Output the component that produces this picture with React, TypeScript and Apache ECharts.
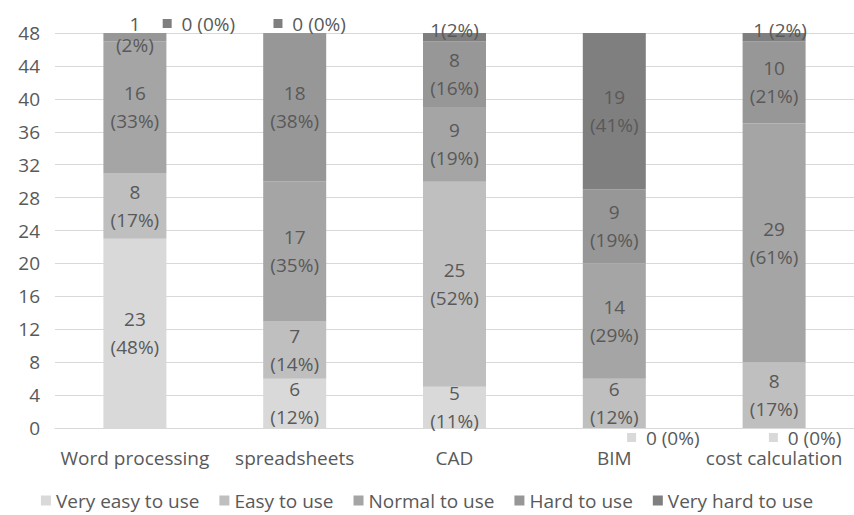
import React, { useEffect, useRef } from "react";
import * as echarts from "echarts";

const categories = ["Word processing", "spreadsheets", "CAD", "BIM", "cost calculation"];
const seriesNames = ["Very easy to use", "Easy to use", "Normal to use", "Hard to use", "Very hard to use"];
const veryEasy = [23, 6, 5, 0, 0];
const easy = [8, 7, 25, 6, 8];
const normal = [16, 17, 9, 14, 29];
const hard = [1, 18, 8, 9, 10];
const veryHard = [0, 0, 1, 19, 1];
const veryEasyPct = [48, 12, 11, 0, 0];
const easyPct = [17, 14, 52, 12, 17];
const normalPct = [33, 35, 19, 29, 61];
const hardPct = [2, 38, 16, 19, 21];
const veryHardPct = [0, 0, 2, 41, 2];
const yTicks = [0, 4, 8, 12, 16, 20, 24, 28, 32, 36, 40, 44, 48];

const colors = ["#d9d9d9", "#bfbfbf", "#a5a5a5", "#979797", "#7f7f7f"];
const textColor = "#595959";
const FONT = "'Open Sans', sans-serif";
const FS = 19;

// label tweaks: [seriesIndex]-[categoryIndex]
const tweaks: Record<string, any> = {
  "3-0": { lineHeight: 21, offset: [0, -3] },
  "4-2": { single: "", offset: [0, -7] },
  "4-4": { single: " ", offset: [6, -7] },
  "4-0": { zero: true, position: "top", offset: [64, 0] },
  "4-1": { zero: true, position: "top", offset: [15, 0] },
  "0-3": { zero: true, position: "bottom", offset: [49, 0] },
  "0-4": { zero: true, position: "bottom", offset: [31, 0] },
};

export default function App() {
  const ref = useRef<HTMLDivElement>(null);
  useEffect(() => {
    document.body.style.margin = "0";
    const chart = echarts.init(ref.current!, undefined, { renderer: "svg" });
    const values = [veryEasy, easy, normal, hard, veryHard];
    const pcts = [veryEasyPct, easyPct, normalPct, hardPct, veryHardPct];
    const series = seriesNames.map((name, si) => ({
      name,
      type: "bar",
      stack: "total",
      barWidth: 63,
      itemStyle: { color: colors[si] },
      data: values[si].map((v, ci) => {
        const t = tweaks[`${si}-${ci}`];
        const pct = pcts[si][ci];
        let label: any = {
          show: v !== 0,
          position: "inside",
          color: textColor,
          fontSize: FS,
          fontFamily: FONT,
          lineHeight: 28,
          formatter: `${v}\n(${pct}%)`,
        };
        if (t) {
          if (t.zero) {
            label = {
              show: true,
              position: t.position,
              offset: t.offset,
              distance: 0,
              color: textColor,
              fontSize: FS,
              fontFamily: FONT,
              lineHeight: 19,
              formatter: `{m|}  ${v} (${pct}%)`,
              rich: {
                m: { width: 9, height: 9, backgroundColor: colors[si] },
              },
            };
          } else if (t.single !== undefined) {
            label = { ...label, formatter: `${v}${t.single}(${pct}%)`, offset: t.offset };
          } else {
            label = { ...label, ...t };
          }
        }
        return { value: v, label };
      }),
    }));
    chart.setOption({
      animation: false,
      grid: { left: 55, width: 805, top: 33, bottom: 87 },
      legend: {
        bottom: 0,
        left: "center",
        itemWidth: 10,
        itemHeight: 10,
        itemGap: 20,
        icon: "rect",
        textStyle: { color: textColor, fontSize: FS, fontFamily: FONT },
        data: seriesNames,
      },
      xAxis: {
        type: "category",
        data: categories,
        axisLine: { lineStyle: { color: "#d9d9d9" } },
        axisTick: { show: false },
        axisLabel: { color: textColor, fontSize: FS, fontFamily: FONT, margin: 20, interval: 0 },
      },
      yAxis: {
        type: "value",
        min: yTicks[0],
        max: yTicks[yTicks.length - 1],
        interval: 4,
        axisLine: { show: false },
        axisTick: { show: false },
        splitLine: { lineStyle: { color: "#d9d9d9", width: 1 } },
        axisLabel: { color: textColor, fontSize: FS, fontFamily: FONT, margin: 15 },
      },
      series,
    });
    return () => chart.dispose();
  }, []);
  return <div ref={ref} style={{ width: 854, height: 515 }} />;
}
